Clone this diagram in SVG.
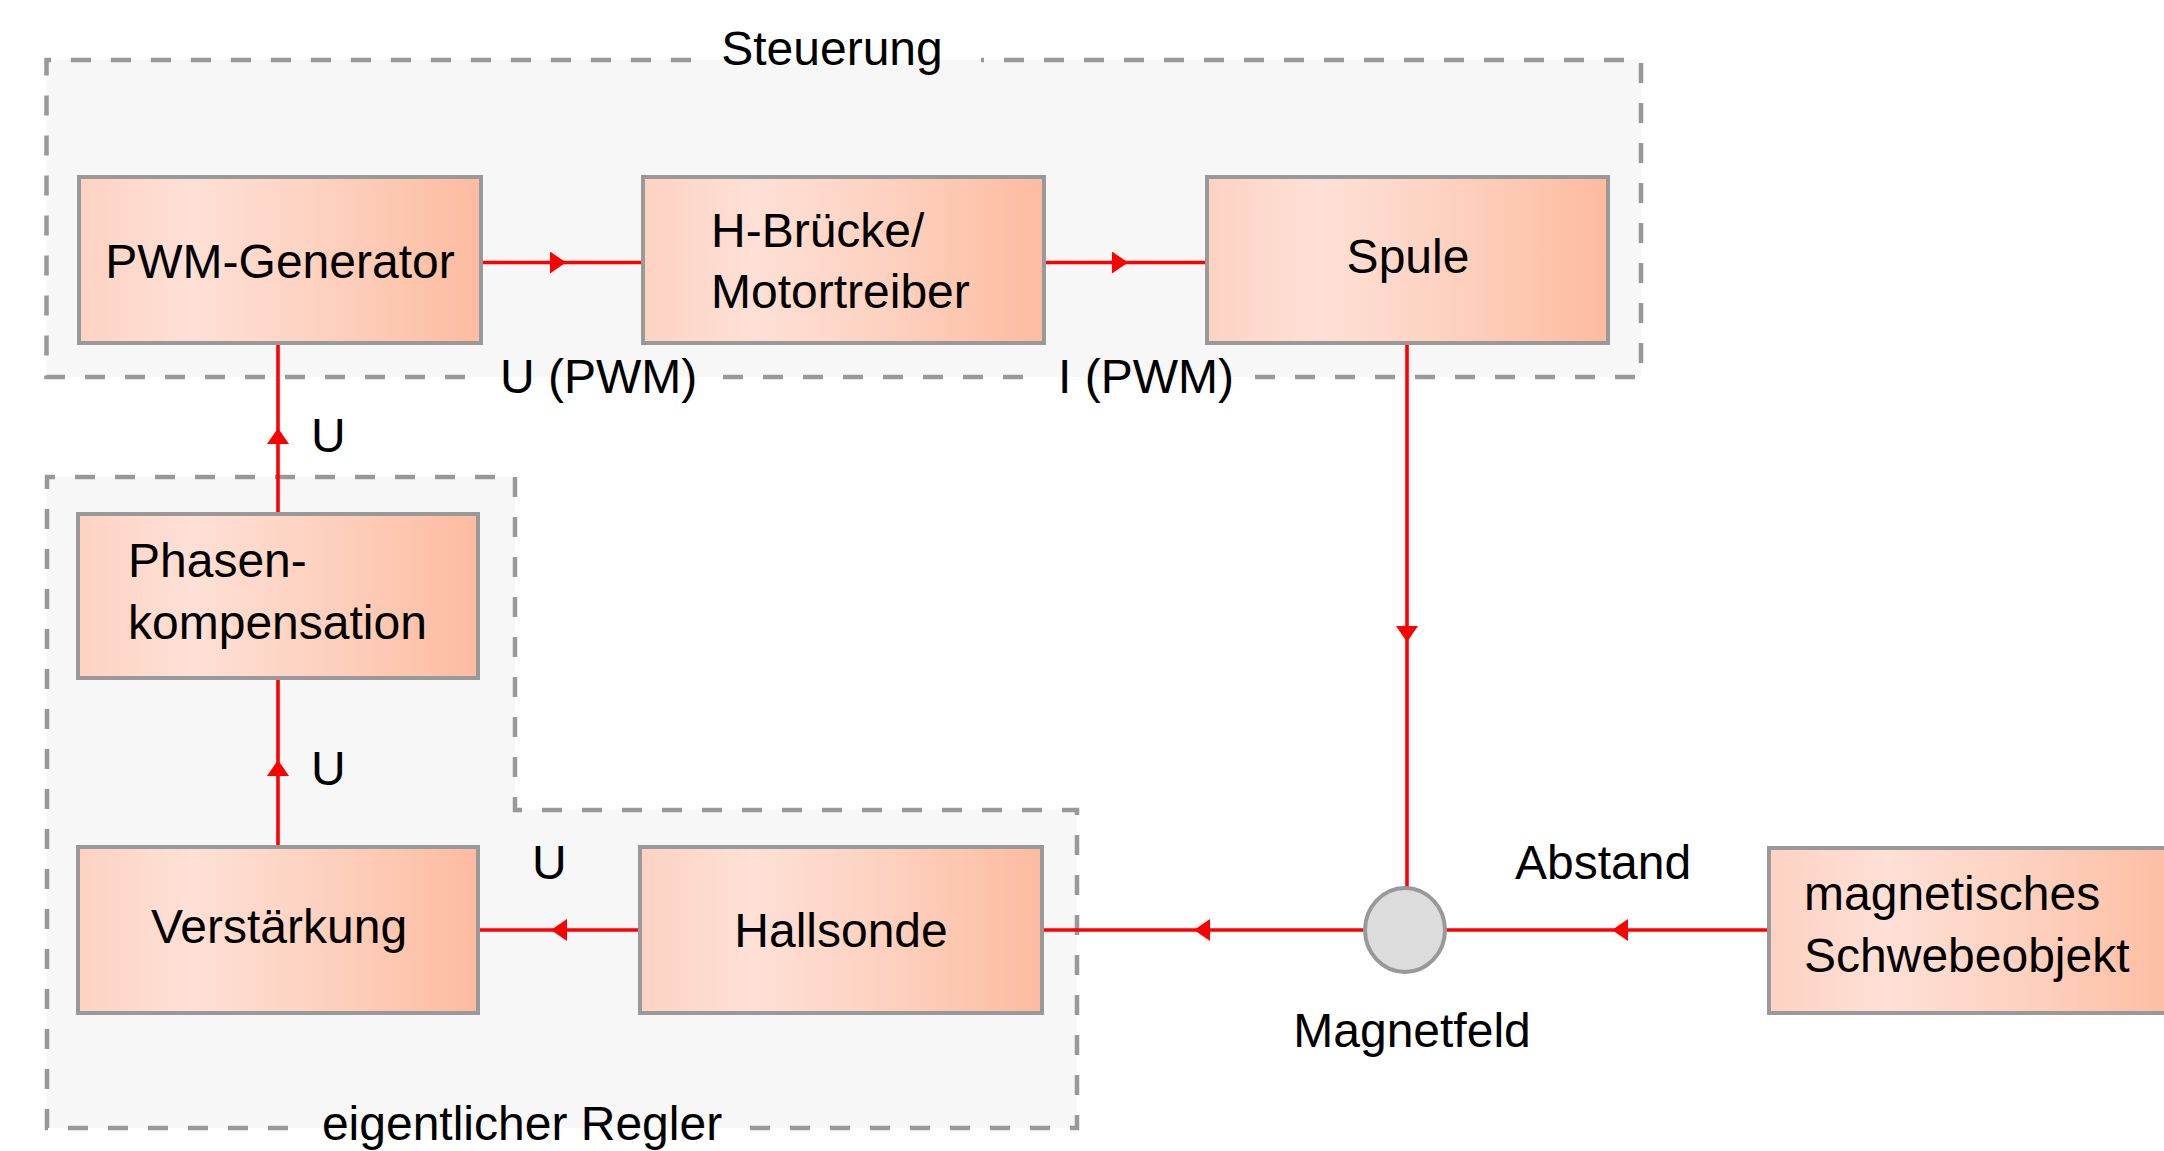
<svg xmlns="http://www.w3.org/2000/svg" width="2164" height="1151" viewBox="0 0 2164 1151">
  <style>
    text { font-family: "Liberation Sans", Arial, sans-serif; font-size: 48px; fill: #000; }
    .mid { text-anchor: middle; }
    .box { fill: url(#salmon); stroke: #999999; stroke-width: 4; }
    .group-fill { fill: #f7f7f7; stroke: none; }
    .group-edge { fill: none; stroke: #999999; stroke-width: 4.5; stroke-dasharray: 20 20; }
    .wire { fill: none; stroke: #ff0000; stroke-width: 3.6; marker-mid: url(#arrow); }
  </style>
  <defs>
    <linearGradient id="salmon" x1="0" y1="0" x2="1" y2="0">
      <stop offset="0" stop-color="#fdd2c2"/>
      <stop offset="0.28" stop-color="#fee0d6"/>
      <stop offset="0.65" stop-color="#fdcfbc"/>
      <stop offset="1" stop-color="#fdbb9f"/>
    </linearGradient>
    <marker id="arrow" markerUnits="userSpaceOnUse" markerWidth="16" markerHeight="22" viewBox="0 0 16 22" refX="16" refY="11" orient="auto">
      <path d="M0,0 L16,11 L0,22 Z" fill="#ff0000"/>
    </marker>
  </defs>

  <!-- group frames -->
  <g id="group-steuerung">
    <rect class="group-fill" x="46.5" y="60" width="1594.5" height="317"/>
    <path class="group-edge" d="M691 60 L46.5 60 L46.5 377 L465 377 M723 377 L1028 377 M1255 377 L1641 377 L1641 60 L981 60"/>
    <text class="mid" x="832" y="65">Steuerung</text>
  </g>
  <g id="group-regler">
    <path class="group-fill" d="M47 477 L515 477 L515 810 L1077 810 L1077 1128 L47 1128 Z"/>
    <path class="group-edge" d="M288 1128 L47 1128 L47 477 L515 477 L515 810 L1077 810 L1077 1128 L740 1128"/>
    <text class="mid" x="522" y="1140">eigentlicher Regler</text>
  </g>

  <!-- connectors -->
  <g id="connectors">
    <path class="wire" d="M483 262.5 L566 262.5 L641 262.5"/>
    <path class="wire" d="M1046 262.5 L1128 262.5 L1205 262.5"/>
    <path class="wire" d="M1407 345 L1407 642 L1407 930"/>
    <path class="wire" d="M1767 930 L1612 930 L1445 930"/>
    <path class="wire" d="M1405 930 L1194 930 L1042 930"/>
    <path class="wire" d="M640 930 L551 930 L479 930"/>
    <path class="wire" d="M278 847 L278 760 L278 680"/>
    <path class="wire" d="M278 513 L278 428 L278 345"/>
    <text x="500" y="393">U (PWM)</text>
    <text x="1058" y="393">I (PWM)</text>
    <text x="311" y="452">U</text>
    <text x="311" y="785">U</text>
    <text x="532" y="879">U</text>
    <text x="1515" y="879">Abstand</text>
    <text class="mid" x="1412" y="1047">Magnetfeld</text>
  </g>

  <!-- nodes -->
  <g id="node-pwm">
    <rect class="box" x="79" y="177" width="402" height="166"/>
    <text class="mid" x="280" y="278">PWM-Generator</text>
  </g>
  <g id="node-hbruecke">
    <rect class="box" x="643" y="177" width="401" height="166"/>
    <text x="711" y="247">H-Brücke/</text>
    <text x="711" y="308">Motortreiber</text>
  </g>
  <g id="node-spule">
    <rect class="box" x="1207" y="177" width="401" height="166"/>
    <text class="mid" x="1408" y="273">Spule</text>
  </g>
  <g id="node-phasen">
    <rect class="box" x="78" y="514" width="400" height="164"/>
    <text x="128" y="577">Phasen-</text>
    <text x="128" y="639">kompensation</text>
  </g>
  <g id="node-verstaerkung">
    <rect class="box" x="78" y="847" width="400" height="166"/>
    <text class="mid" x="279" y="943">Verstärkung</text>
  </g>
  <g id="node-hallsonde">
    <rect class="box" x="640" y="847" width="402" height="166"/>
    <text class="mid" x="841" y="947">Hallsonde</text>
  </g>
  <g id="node-magnetfeld">
    <ellipse cx="1405" cy="930" rx="40" ry="42" fill="#dcdcdc" stroke="#999999" stroke-width="4"/>
  </g>
  <g id="node-schwebeobjekt">
    <rect class="box" x="1769" y="848" width="420" height="165"/>
    <text x="1804" y="910">magnetisches</text>
    <text x="1804" y="972">Schwebeobjekt</text>
  </g>
</svg>
